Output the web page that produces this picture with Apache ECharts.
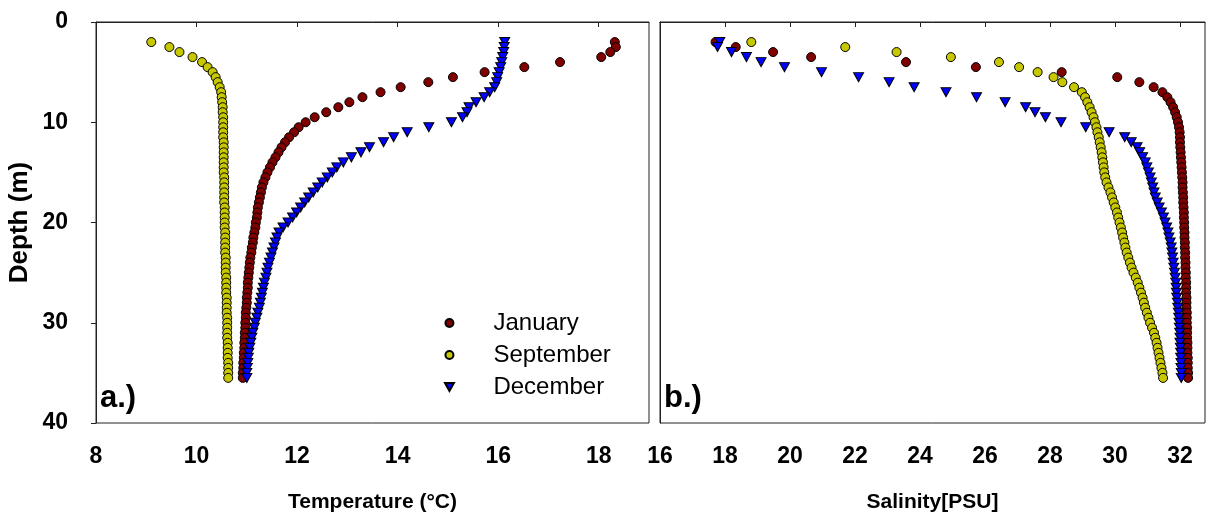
<!DOCTYPE html>
<html>
<head>
<meta charset="utf-8">
<script src="https://cdn.jsdelivr.net/npm/echarts@6/dist/echarts.min.js"></script>
<style>
html,body{margin:0;padding:0;background:#fff;}
#chart{width:1206px;height:529px;}
</style>
</head>
<body>
<div id="chart"></div>
<script>
var depth = [2,2.5,3,3.5,4,4.5,5,5.5,6,6.5,
  7,7.5,8,8.5,9,9.5,10,10.5,11,11.5,
  12,12.5,13,13.5,14,14.5,15,15.5,16,16.5,
  17,17.5,18,18.5,19,19.5,20,20.5,21,21.5,
  22,22.5,23,23.5,24,24.5,25,25.5,26,26.5,
  27,27.5,28,28.5,29,29.5,30,30.5,31,31.5,
  32,32.5,33,33.5,34,34.5,35,35.5];

var janTemp = [18.32,18.34,18.23,18.05,17.23,16.52,15.73,15.10,14.61,14.06,
  13.66,13.30,13.04,12.82,12.58,12.35,12.17,12.03,11.94,11.84,
  11.76,11.69,11.63,11.57,11.51,11.46,11.41,11.37,11.33,11.30,
  11.28,11.26,11.24,11.22,11.21,11.20,11.18,11.17,11.15,11.13,
  11.12,11.10,11.09,11.07,11.06,11.05,11.04,11.03,11.02,11.02,
  11.01,11.00,11.00,10.99,10.98,10.98,10.97,10.97,10.96,10.96,
  10.95,10.95,10.94,10.94,10.93,10.93,10.92,10.92];

var sepTemp = [9.10,9.46,9.66,9.92,10.11,10.22,10.32,10.38,10.42,10.46,
  10.49,10.50,10.51,10.52,10.52,10.53,10.53,10.53,10.53,10.53,
  10.54,10.54,10.54,10.54,10.54,10.54,10.54,10.55,10.55,10.55,
  10.55,10.55,10.55,10.56,10.56,10.56,10.56,10.56,10.57,10.57,
  10.57,10.57,10.57,10.58,10.58,10.58,10.58,10.59,10.59,10.59,
  10.59,10.60,10.60,10.60,10.60,10.61,10.61,10.61,10.61,10.61,
  10.62,10.62,10.62,10.62,10.63,10.63,10.63,10.63];

var decTemp = [16.13,16.12,16.11,16.09,16.07,16.05,16.02,15.99,15.97,15.93,
  15.83,15.72,15.56,15.42,15.38,15.29,15.07,14.62,14.19,13.92,
  13.72,13.44,13.27,13.08,12.92,12.79,12.70,12.60,12.50,12.41,
  12.32,12.23,12.15,12.07,11.99,11.91,11.82,11.72,11.64,11.60,
  11.57,11.54,11.51,11.48,11.45,11.42,11.40,11.38,11.35,11.33,
  11.31,11.29,11.27,11.25,11.22,11.20,11.17,11.15,11.12,11.10,
  11.08,11.06,11.04,11.03,11.02,11.01,11.00,11.00];

var janSal = [17.71,18.33,19.48,20.65,23.57,25.72,28.36,30.07,30.75,31.19,
  31.46,31.61,31.71,31.79,31.85,31.90,31.94,31.97,31.99,32.00,
  32.00,32.01,32.02,32.03,32.04,32.05,32.06,32.07,32.08,32.08,
  32.09,32.10,32.10,32.11,32.12,32.12,32.13,32.13,32.14,32.14,
  32.15,32.15,32.16,32.16,32.17,32.17,32.18,32.18,32.19,32.19,
  32.19,32.20,32.20,32.20,32.21,32.21,32.21,32.22,32.22,32.22,
  32.23,32.23,32.23,32.24,32.24,32.24,32.25,32.25];

var sepSal = [18.81,21.70,23.28,24.95,26.43,27.05,27.62,28.11,28.38,28.74,
  28.98,29.08,29.15,29.22,29.28,29.34,29.38,29.43,29.46,29.50,
  29.53,29.56,29.59,29.61,29.63,29.65,29.67,29.70,29.74,29.80,
  29.86,29.91,29.96,30.01,30.06,30.10,30.14,30.18,30.22,30.25,
  30.29,30.32,30.36,30.41,30.46,30.51,30.57,30.64,30.70,30.75,
  30.80,30.85,30.89,30.93,30.98,31.03,31.08,31.14,31.20,31.24,
  31.28,31.31,31.34,31.37,31.40,31.43,31.46,31.48];

var decSal = [17.84,17.77,18.20,18.66,19.11,19.83,20.97,22.11,23.05,23.82,
  24.80,25.74,26.62,27.25,27.54,27.86,28.34,29.10,29.82,30.30,
  30.50,30.68,30.76,30.85,30.93,30.98,31.03,31.08,31.12,31.16,
  31.20,31.24,31.30,31.36,31.43,31.49,31.54,31.59,31.63,31.66,
  31.70,31.73,31.75,31.77,31.79,31.81,31.83,31.85,31.87,31.88,
  31.89,31.90,31.92,31.93,31.95,31.96,31.97,31.98,31.99,32.00,
  32.00,32.01,32.02,32.02,32.03,32.03,32.04,32.04];

var monthNames = ['January', 'September', 'December'];
var panelLabels = ['a.)', 'b.)'];
var axisTitles = ['Temperature (°C)', 'Salinity[PSU]', 'Depth (m)'];

var FONT = 'Liberation Sans, Arial, Helvetica, sans-serif';
var colors = ['#800000', '#c8c800', '#0000ff'];
var triPath = 'path://M0,0L10,0L5,9Z';
var symbols = ['circle', 'circle', triPath];
var symSizes = [9, 9, [10, 9]];

function pairs(xs) { return depth.map(function (d, i) { return [xs[i], d]; }); }

var tempSets = [janTemp, sepTemp, decTemp];
var salSets = [janSal, sepSal, decSal];

var series = [];
[tempSets, salSets].forEach(function (sets, g) {
  sets.forEach(function (vals, k) {
    series.push({
      type: 'scatter',
      name: monthNames[k],
      xAxisIndex: g,
      yAxisIndex: g,
      data: pairs(vals),
      symbol: symbols[k],
      symbolSize: symSizes[k],
      itemStyle: { color: colors[k], borderColor: '#000', borderWidth: 1, opacity: 1 },
      emphasis: { disabled: true },
      z: 2 + k
    });
  });
});

var axisLineStyle = { color: '#222', width: 1 };
var tickLabel = { color: '#000', fontFamily: FONT, fontWeight: 'bold', fontSize: 23 };

var option = {
  animation: false,
  backgroundColor: '#fff',
  grid: [
    { left: 96, top: 22, width: 553, height: 401, show: true, borderColor: '#222', borderWidth: 1, backgroundColor: 'transparent' },
    { left: 660, top: 22, width: 545, height: 401, show: true, borderColor: '#222', borderWidth: 1, backgroundColor: 'transparent' }
  ],
  xAxis: [
    {
      gridIndex: 0, type: 'value', min: 8, max: 19, interval: 2,
      name: axisTitles[0], nameLocation: 'middle', nameGap: 69,
      nameTextStyle: { color: '#000', fontFamily: FONT, fontWeight: 'bold', fontSize: 21 },
      axisLine: { show: true, lineStyle: axisLineStyle },
      axisTick: { show: true, inside: false, length: 5, lineStyle: axisLineStyle },
      axisLabel: Object.assign({ margin: 22, showMaxLabel: false }, tickLabel),
      splitLine: { show: false }
    },
    {
      gridIndex: 1, type: 'value', min: 16, max: 32.77, interval: 2,
      name: axisTitles[1], nameLocation: 'middle', nameGap: 69,
      nameTextStyle: { color: '#000', fontFamily: FONT, fontWeight: 'bold', fontSize: 21 },
      axisLine: { show: true, lineStyle: axisLineStyle },
      axisTick: { show: true, inside: false, length: 5, lineStyle: axisLineStyle },
      axisLabel: Object.assign({ margin: 22, showMaxLabel: false }, tickLabel),
      splitLine: { show: false }
    }
  ],
  yAxis: [
    {
      gridIndex: 0, type: 'value', min: 0, max: 40, interval: 10, inverse: true,
      name: axisTitles[2], nameLocation: 'middle', nameGap: 63, nameRotate: 90,
      nameTextStyle: { color: '#000', fontFamily: FONT, fontWeight: 'bold', fontSize: 26 },
      axisLine: { show: true, lineStyle: axisLineStyle },
      axisTick: { show: true, inside: false, length: 5, lineStyle: axisLineStyle },
      axisLabel: Object.assign({ margin: 28 }, tickLabel),
      splitLine: { show: false }
    },
    {
      gridIndex: 1, type: 'value', min: 0, max: 40, interval: 10, inverse: true,
      axisLine: { show: true, lineStyle: axisLineStyle },
      axisTick: { show: false },
      axisLabel: { show: false },
      splitLine: { show: false }
    }
  ],
  legend: {
    data: monthNames,
    orient: 'vertical',
    left: 439,
    top: 306,
    itemWidth: 78,
    itemHeight: 8,
    itemGap: 8,
    selectedMode: false,
    textStyle: { color: '#000', fontFamily: FONT, fontSize: 24 }
  },
  graphic: [
    { type: 'text', left: 100, top: 383, silent: true,
      style: { text: panelLabels[0], fill: '#000', font: 'bold 31px ' + FONT } },
    { type: 'text', left: 664, top: 383, silent: true,
      style: { text: panelLabels[1], fill: '#000', font: 'bold 31px ' + FONT } }
  ],
  series: series
};

var chart = echarts.init(document.getElementById('chart'), null, { renderer: 'canvas' });
chart.setOption(option);
</script>
</body>
</html>
